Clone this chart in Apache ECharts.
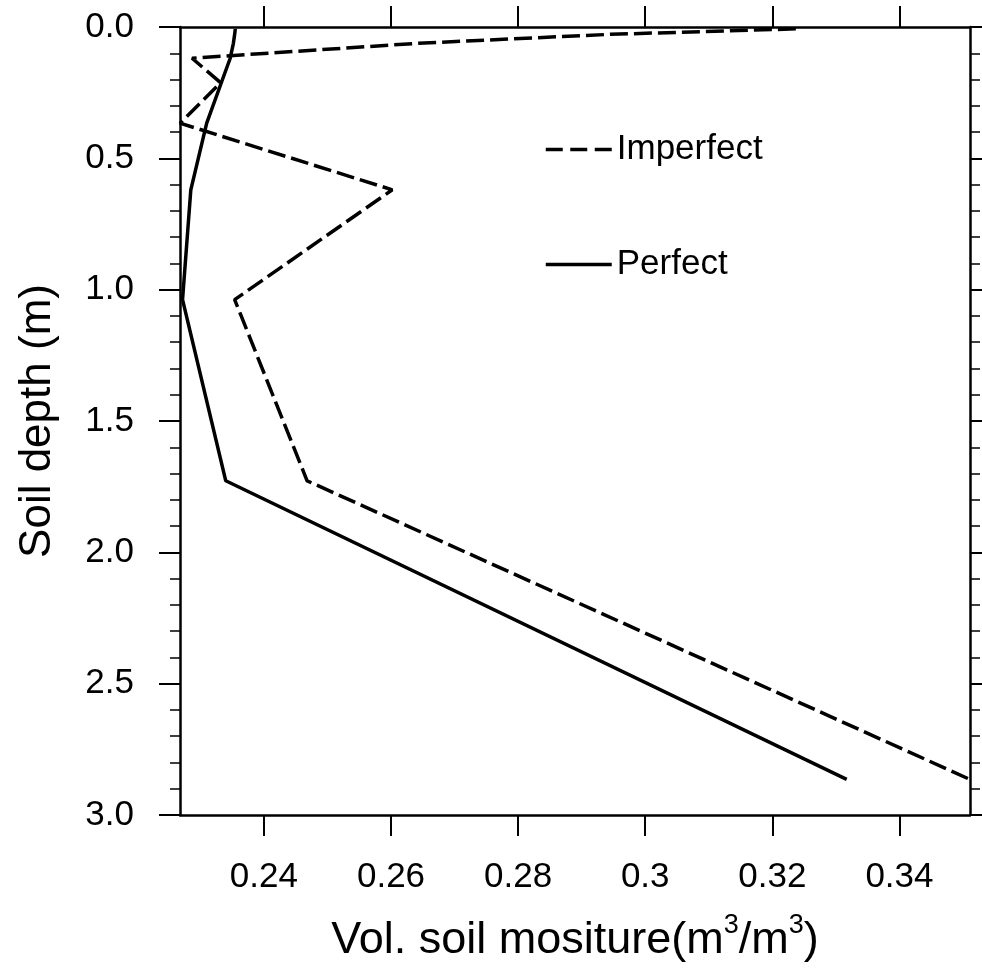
<!DOCTYPE html>
<html>
<head>
<meta charset="utf-8">
<script src="https://cdn.jsdelivr.net/npm/echarts@6/dist/echarts.min.js"></script>
<style>html,body{margin:0;padding:0;background:#fff;}#c{width:982px;height:968px;}</style>
</head>
<body>
<div id="c"></div>
<script>
// Soil node depths (m)
const depths = [0.0071, 0.0279, 0.0623, 0.1189, 0.2122, 0.3661, 0.6198, 1.0380, 1.7276, 2.8646];
// Volumetric soil moisture (m3/m3)
const imperfect = [0.3237, 0.2945, 0.2640, 0.2287, 0.2332, 0.2268, 0.2602, 0.2354, 0.2468, 0.3511];
const perfect   = [0.2355, 0.2354, 0.2352, 0.2347, 0.2333, 0.2310, 0.2285, 0.2272, 0.2340, 0.3317];
const seriesNames = ['Imperfect', 'Perfect'];
const xTickValues = [0.24, 0.26, 0.28, 0.30, 0.32, 0.34];
const xTickLabels = ['0.24', '0.26', '0.28', '0.3', '0.32', '0.34'];
const yTickLabels = ['0.0', '0.5', '1.0', '1.5', '2.0', '2.5', '3.0'];
const xMin = 0.2268, xMax = 0.3511;

const FONT = "'Liberation Sans', Arial, Helvetica, sans-serif";
const chart = echarts.init(document.getElementById('c'), null, {renderer: 'canvas'});

const pairs = (xs) => xs.map((v, i) => [v, depths[i]]);
const xLabelMap = {};
xTickValues.forEach((v, i) => { xLabelMap[v.toFixed(2)] = xTickLabels[i]; });

const axisLineStyle = {color: '#000', width: 2.5};
const baseX = {
  type: 'value', min: xMin, max: xMax,
  axisLine: {show: true, onZero: false, lineStyle: axisLineStyle},
  axisTick: {show: true, length: 21, lineStyle: {color: '#000', width: 2}, customValues: xTickValues},
  splitLine: {show: false}
};
const baseY = {
  type: 'value', min: 0, max: 3, interval: 0.5, inverse: true,
  axisLine: {show: true, onZero: false, lineStyle: axisLineStyle},
  axisTick: {show: true, length: 21, lineStyle: {color: '#000', width: 2}},
  minorTick: {show: true, splitNumber: 5, length: 10, lineStyle: {color: '#000', width: 1.5}},
  splitLine: {show: false}, minorSplitLine: {show: false}
};

chart.setOption({
  backgroundColor: '#fff',
  animation: false,
  grid: {left: 180, top: 27, right: 12, bottom: 151, containLabel: false},
  legend: {
    orient: 'vertical', left: 544, top: 132, padding: 0,
    itemWidth: 66, itemHeight: 14, itemGap: 80,
    data: [
      {name: seriesNames[0], lineStyle: {type: [17, 7.5], width: 3.5}},
      {name: seriesNames[1], lineStyle: {type: 'solid', width: 3.5}}
    ],
    itemStyle: {opacity: 0},
    lineStyle: {width: 3.5, type: [17, 7.5]},
    textStyle: {fontFamily: FONT, fontSize: 35, color: '#000', lineHeight: 34}
  },
  xAxis: [
    Object.assign({}, baseX, {
      position: 'bottom',
      name: 'Vol. soil mositure(m{sup|3}/m{sup|3})',
      nameLocation: 'middle', nameGap: 97,
      nameTextStyle: {fontFamily: FONT, fontSize: 45, color: '#000',
        rich: {sup: {fontFamily: FONT, fontSize: 27, color: '#000', verticalAlign: 'top', padding: [0, 0, 30, 0]}}},
      axisLabel: {show: true, customValues: xTickValues, margin: 45,
        fontFamily: FONT, fontSize: 35, color: '#000',
        formatter: (v) => xLabelMap[Number(v).toFixed(2)] || ''}
    }),
    Object.assign({}, baseX, {position: 'top', axisLabel: {show: false}})
  ],
  yAxis: [
    Object.assign({}, baseY, {
      position: 'left',
      name: 'Soil depth (m)', nameLocation: 'middle', nameGap: 120, nameRotate: 90,
      nameTextStyle: {fontFamily: FONT, fontSize: 44, color: '#000'},
      axisLabel: {show: true, margin: 46, fontFamily: FONT, fontSize: 35, color: '#000',
        formatter: (v) => yTickLabels[Math.round(v / 0.5)]}
    }),
    Object.assign({}, baseY, {position: 'right', axisLabel: {show: false}})
  ],
  series: [
    {name: seriesNames[0], type: 'line', xAxisIndex: 0, yAxisIndex: 0, data: pairs(imperfect),
      symbol: 'none', lineStyle: {color: '#000', width: 3.5, type: [18, 6]}, itemStyle: {color: '#000'}},
    {name: seriesNames[1], type: 'line', xAxisIndex: 0, yAxisIndex: 0, data: pairs(perfect),
      symbol: 'none', lineStyle: {color: '#000', width: 3.5, type: 'solid'}, itemStyle: {color: '#000'}}
  ]
});
</script>
</body>
</html>
